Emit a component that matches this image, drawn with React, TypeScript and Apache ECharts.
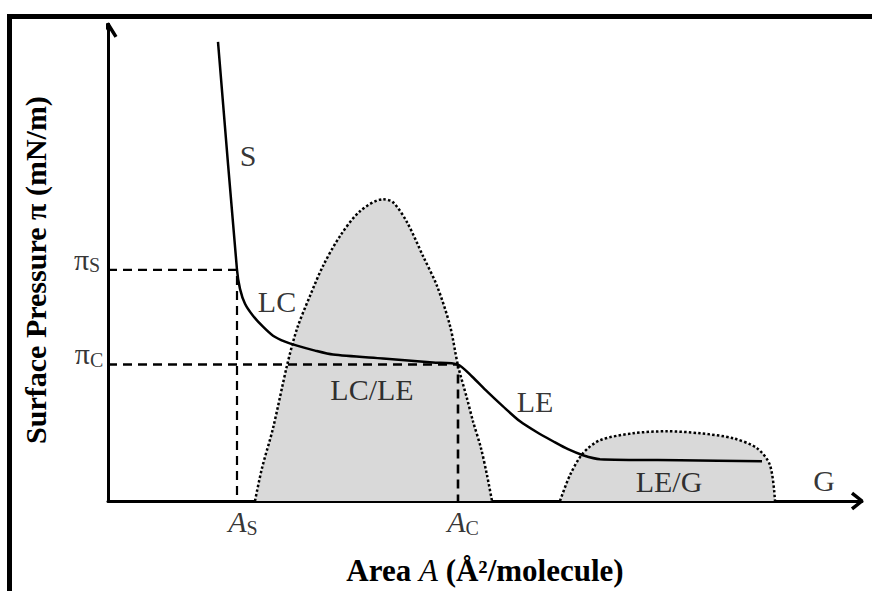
import React, { useEffect, useRef } from "react";
import * as echarts from "echarts";

// Schematic π–A isotherm (units: arbitrary area / pressure units)
const isothermCurve: [number, number][] = [
  [110, 461], [129, 232], [132, 213], [137, 198], [145, 186], [155, 175],
  [165, 166], [177, 160], [189, 156], [207, 151], [225, 147], [275, 143],
  [325, 139], [350, 137], [364, 125], [379, 110], [395, 95], [412, 80],
  [429, 69], [445, 60], [460, 52], [475, 46], [492, 42], [572, 41], [654, 40],
];

const lcLeRegion: [number, number][] = [
  [147, 0], [154, 33], [165, 73], [179, 136], [189, 173], [202, 206],
  [215, 236], [232, 266], [252, 291], [275, 303], [285, 300], [299, 280],
  [315, 246], [329, 216], [342, 176], [350, 136], [359, 103], [365, 80],
  [373, 53], [379, 26], [384, 0],
];

const leGRegion: [number, number][] = [
  [452, 0], [462, 26], [475, 48], [492, 61], [525, 68], [559, 70],
  [592, 68], [625, 63], [649, 53], [662, 36], [667, 0],
];

const piS = 232;
const piC = 137;
const areaS = 129;
const areaC = 350;

const phaseLabels = ["S", "LC", "LC/LE", "LE", "LE/G", "G"];
const phaseLabelPos: [number, number][] = [
  [140, 347], [169, 200], [264, 112], [427, 100], [561, 20], [716, 21],
];

const X_MAX = 754;
const Y_MAX = 479;
const FONT = "'Liberation Serif', 'Times New Roman', serif";

export default function App() {
  const ref = useRef<HTMLDivElement>(null);

  useEffect(() => {
    document.body.style.margin = "0";
    const chart = echarts.init(ref.current!, null, { renderer: "svg" });

    const rich = {
      a: { fontSize: 30, fontFamily: FONT, color: "#000", lineHeight: 32 },
      ai: { fontSize: 30, fontFamily: FONT, fontStyle: "italic", color: "#000", lineHeight: 32 },
      s: { fontSize: 20, fontFamily: FONT, color: "#000", lineHeight: 20, verticalAlign: "bottom" },
    };

    const dashed = { color: "#000", width: 2.2, type: [9, 6] as number[] };

    const option: any = {
      animation: false,
      backgroundColor: "#fff",
      grid: { left: 108, right: 10, top: 24, bottom: 88 },
      xAxis: {
        type: "value",
        min: 0,
        max: X_MAX,
        axisLine: { show: true, onZero: false, lineStyle: { color: "#000", width: 3 } },
        axisTick: { show: false },
        axisLabel: { show: false },
        splitLine: { show: false },
        name: "{b|Area }{i|A}{b| (Å²/molecule)}",
        nameLocation: "middle",
        nameGap: 54,
        nameTextStyle: {
          rich: {
            b: { fontSize: 31, fontWeight: "bold", fontFamily: FONT, color: "#000" },
            i: { fontSize: 31, fontStyle: "italic", fontFamily: FONT, color: "#000" },
          },
        },
      },
      yAxis: {
        type: "value",
        min: 0,
        max: Y_MAX,
        axisLine: { show: true, onZero: false, lineStyle: { color: "#000", width: 3 } },
        axisTick: { show: false },
        axisLabel: { show: false },
        splitLine: { show: false },
      },
      graphic: [
        { type: "rect", shape: { x: 7, y: 14, width: 865, height: 5 }, style: { fill: "#000" } },
        { type: "rect", shape: { x: 7, y: 14, width: 5, height: 577 }, style: { fill: "#000" } },
        {
          type: "text",
          x: 35,
          y: 270,
          rotation: Math.PI / 2,
          style: {
            text: "Surface Pressure π (mN/m)",
            fontSize: 30,
            fontWeight: "bold",
            fontFamily: FONT,
            fill: "#000",
            align: "center",
            verticalAlign: "middle",
          },
        },
      ],
      series: [
        {
          type: "line",
          data: lcLeRegion,
          smooth: 0.3,
          symbol: "none",
          silent: true,
          z: 1,
          lineStyle: { color: "#000", width: 2.5, type: [2.5, 2.2] },
          areaStyle: { color: "#d9d9d9", opacity: 1 },
        },
        {
          type: "line",
          data: leGRegion,
          smooth: 0.3,
          symbol: "none",
          silent: true,
          z: 1,
          lineStyle: { color: "#000", width: 2.5, type: [2.5, 2.2] },
          areaStyle: { color: "#d9d9d9", opacity: 1 },
        },
        {
          type: "line",
          data: [[0, piS], [areaS, piS], [areaS, 0]],
          symbol: "none",
          silent: true,
          z: 2,
          lineStyle: dashed,
        },
        {
          type: "line",
          data: [[0, piC], [areaC, piC], [areaC, 0]],
          symbol: "none",
          silent: true,
          z: 2,
          lineStyle: { ...dashed, width: 2.6 },
        },
        {
          type: "line",
          data: isothermCurve,
          smooth: 0.25,
          symbol: "none",
          silent: true,
          z: 3,
          lineStyle: { color: "#000", width: 2.5 },
        },
        {
          type: "line",
          data: [[X_MAX - 10, 8], [X_MAX, 0], [X_MAX - 10, -8]],
          symbol: "none",
          silent: true,
          clip: false,
          z: 4,
          lineStyle: { color: "#000", width: 3.5 },
        },
        {
          type: "line",
          data: [[-8, Y_MAX - 13], [0, Y_MAX], [8, Y_MAX - 13]],
          symbol: "none",
          silent: true,
          clip: false,
          z: 4,
          lineStyle: { color: "#000", width: 3.5 },
        },
        {
          type: "scatter",
          symbolSize: 1,
          silent: true,
          clip: false,
          z: 5,
          itemStyle: { color: "rgba(0,0,0,0)" },
          label: {
            show: true,
            position: "inside",
            color: "#000",
            fontFamily: FONT,
            fontSize: 30,
            rich,
          },
          data: [
            ...phaseLabels.map((t, i) => ({
              value: phaseLabelPos[i],
              label: { formatter: `{a|${t}}` },
            })),
            { value: [-21, 243], label: { formatter: "{a|π}{s|S}" } },
            { value: [-19, 148], label: { formatter: "{a|π}{s|C}" } },
            { value: [135, -21], label: { formatter: "{ai|A}{s|S}" } },
            { value: [355, -21], label: { formatter: "{ai|A}{s|C}" } },
          ],
        },
      ],
    };

    chart.setOption(option);
    return () => chart.dispose();
  }, []);

  return <div ref={ref} style={{ width: 872, height: 591 }} />;
}
